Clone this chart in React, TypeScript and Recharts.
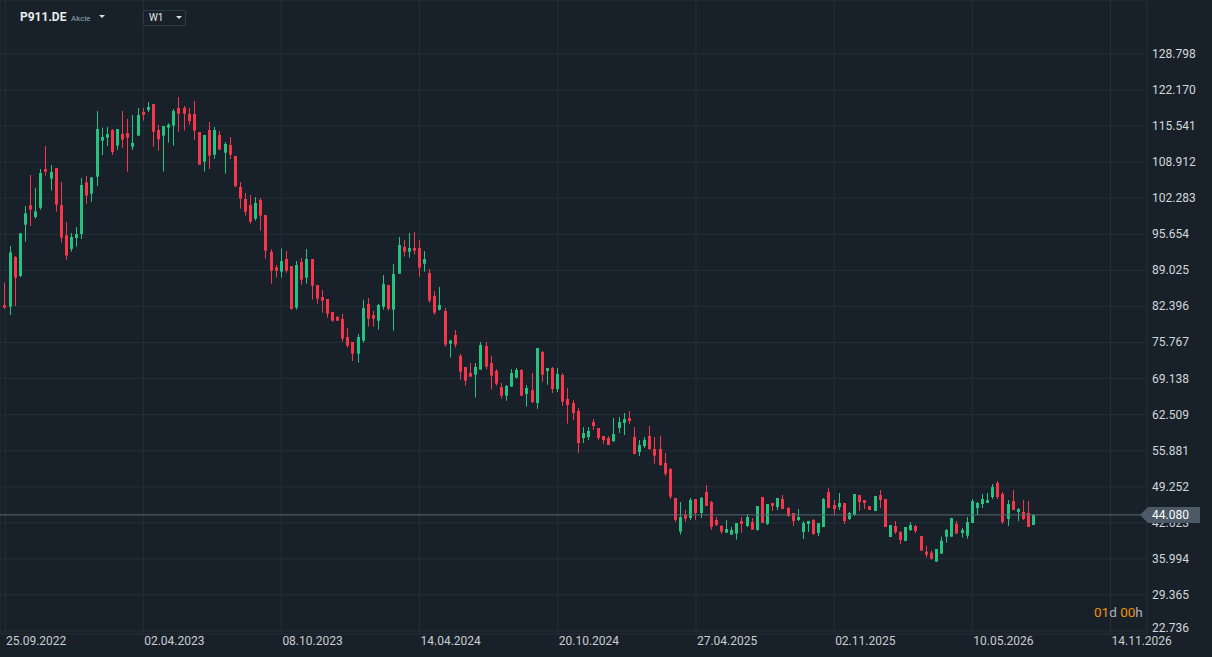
import React from 'react';
import { ComposedChart, Bar, XAxis, YAxis, CartesianGrid, ReferenceLine } from 'recharts';

// weekly candles, index 0 = week of 25.09.2022
const DATE_TICKS = [0, 27, 54, 81, 108, 135, 162, 189, 216];
const DATE_LABELS = ['25.09.2022', '02.04.2023', '08.10.2023', '14.04.2024', '20.10.2024', '27.04.2025', '02.11.2025', '10.05.2026', '14.11.2026'];
const PRICE_TICKS = [22.736, 29.365, 35.994, 42.623, 49.252, 55.881, 62.509, 69.138, 75.767, 82.396, 89.025, 95.654, 102.283, 108.912, 115.541, 122.17, 128.798];
const LAST_PRICE = 44.08;

const OPEN = [
  82.65, 82.35, 91.48, 87.98, 97.42, 100.97, 98.83, 100.54, 107.65, 105.87,
  107.83, 101.03, 95.46, 92.95, 94.97, 95.7, 105.2, 103.12, 106.24, 112.86,
  113.41, 114.82, 111.94, 114.08, 114.27, 111.76, 113.78, 118.13, 118.49, 119.6,
  114.82, 113.78, 115.25, 115.61, 118.86, 118.86, 117.76, 117.76, 114.45, 109.0,
  114.82, 110.28, 113.9, 110.65, 112.06, 110.04, 104.34, 102.14, 101.03, 98.52,
  101.95, 99.2, 92.4, 89.58, 88.78, 91.11, 89.82, 82.16, 90.56, 87.68,
  91.11, 86.33, 84.12, 83.76, 81.37, 80.45, 80.08, 76.77, 75.85, 73.71,
  76.1, 82.84, 80.82, 79.77, 82.35, 86.33, 81.8, 88.42, 93.32, 92.46,
  93.13, 93.13, 90.25, 88.54, 84.31, 81.8, 81.55, 75.55, 77.14, 73.28,
  71.26, 70.16, 69.85, 70.77, 75.12, 72.0, 70.53, 67.59, 65.99, 67.65,
  69.3, 70.71, 66.3, 67.03, 64.64, 74.01, 70.52, 71.07, 67.21, 69.79,
  65.38, 64.64, 63.17, 58.21, 58.39, 61.15, 60.05, 58.58, 58.21, 57.66,
  60.05, 60.97, 61.88, 58.39, 55.64, 56.74, 58.58, 56.19, 56.19, 53.62,
  52.51, 47.19, 41.0, 44.06, 43.51, 47.0, 44.43, 48.29, 46.45, 43.14,
  42.04, 40.81, 40.45, 40.63, 42.96, 42.04, 42.77, 41.31, 47.37, 42.41,
  46.27, 45.53, 47.0, 45.34, 44.43, 43.14, 40.93, 42.4, 43.14, 40.75,
  41.85, 48.28, 45.9, 45.53, 46.26, 43.32, 44.06, 47.73, 46.81, 45.71,
  44.79, 47.73, 47.0, 40.01, 42.04, 40.93, 39.28, 41.3, 42.04, 40.2,
  37.32, 37.14, 35.48, 36.95, 40.08, 40.08, 42.41, 40.75, 40.26, 42.59,
  45.35, 46.08, 46.26, 47.37, 49.94, 47.92, 43.32, 46.63, 44.61, 44.61,
  44.43, 42.22,
];
const HIGH = [
  86.76, 93.5, 91.66, 95.83, 100.85, 106.55, 104.16, 107.65, 111.88, 108.39,
  107.83, 105.26, 97.91, 95.89, 96.99, 106.0, 106.36, 106.12, 118.31, 115.25,
  115.37, 115.0, 115.0, 118.31, 116.84, 117.58, 118.86, 118.86, 119.96, 119.6,
  115.74, 115.55, 116.04, 118.68, 120.88, 119.23, 118.86, 120.15, 114.45, 113.9,
  116.29, 115.37, 114.63, 112.61, 113.53, 110.04, 105.26, 103.24, 102.87, 102.5,
  102.32, 99.2, 92.89, 90.01, 93.07, 92.58, 89.82, 90.74, 91.29, 92.95,
  91.11, 86.33, 85.41, 83.76, 81.37, 80.63, 81.0, 78.43, 75.85, 77.32,
  83.57, 83.94, 81.55, 82.84, 88.17, 86.33, 90.19, 95.15, 94.6, 95.89,
  96.07, 94.6, 92.58, 89.27, 85.23, 85.97, 82.11, 76.29, 78.06, 73.65,
  71.26, 72.0, 72.0, 75.86, 75.86, 73.28, 70.89, 68.32, 67.95, 70.89,
  71.08, 70.89, 67.95, 70.15, 74.75, 74.2, 71.07, 71.26, 71.07, 70.15,
  67.4, 65.19, 63.72, 60.23, 60.23, 61.7, 60.05, 58.58, 58.58, 61.88,
  62.07, 62.8, 63.17, 60.23, 57.84, 58.39, 60.41, 58.39, 58.58, 55.46,
  52.7, 47.19, 46.45, 44.98, 47.19, 47.0, 47.37, 49.58, 46.64, 43.69,
  42.22, 43.14, 41.86, 42.59, 43.69, 44.25, 43.51, 45.72, 47.37, 46.08,
  46.27, 47.19, 47.74, 45.53, 44.43, 45.16, 42.96, 42.96, 43.32, 42.59,
  47.18, 49.02, 46.81, 48.1, 46.26, 44.61, 47.92, 47.73, 46.81, 45.71,
  47.55, 48.65, 47.0, 42.22, 42.96, 41.12, 41.85, 42.77, 42.22, 40.2,
  38.42, 37.5, 37.81, 40.08, 41.49, 43.51, 42.96, 41.67, 43.69, 47.0,
  46.45, 47.92, 48.1, 49.76, 50.31, 48.29, 46.82, 48.65, 45.35, 46.82,
  46.63, 44.24,
];
const LOW = [
  82.0, 80.82, 82.47, 87.8, 94.3, 97.17, 98.52, 100.18, 106.43, 103.67,
  99.81, 94.11, 90.99, 92.46, 93.38, 94.79, 101.28, 101.65, 104.53, 110.22,
  111.88, 110.22, 111.14, 111.57, 107.16, 111.14, 113.78, 116.53, 118.13, 111.76,
  111.02, 107.16, 112.49, 111.94, 114.51, 114.7, 115.8, 112.98, 108.45, 107.16,
  107.65, 109.49, 111.2, 106.79, 109.49, 104.34, 100.36, 99.07, 97.6, 98.15,
  96.32, 91.17, 86.58, 87.68, 87.68, 88.6, 81.8, 81.8, 86.39, 86.58,
  83.63, 82.9, 81.25, 80.33, 79.59, 79.77, 75.92, 74.81, 72.36, 72.06,
  75.73, 78.67, 78.67, 78.12, 81.8, 81.61, 77.94, 88.42, 91.54, 91.36,
  91.91, 87.86, 88.78, 83.09, 80.88, 81.62, 75.0, 72.98, 74.82, 68.93,
  67.83, 69.49, 65.63, 70.77, 70.77, 67.1, 67.83, 65.44, 65.07, 67.65,
  69.12, 65.99, 63.97, 64.64, 63.54, 68.5, 68.01, 66.48, 66.66, 64.09,
  60.84, 61.52, 55.45, 57.29, 57.84, 59.68, 57.84, 57.11, 56.92, 57.47,
  59.13, 58.76, 60.78, 55.27, 54.9, 56.37, 56.0, 53.5, 53.07, 51.23,
  47.0, 42.77, 40.45, 42.77, 43.14, 43.14, 43.51, 45.72, 41.31, 42.04,
  40.63, 40.81, 40.45, 39.53, 40.81, 41.86, 41.37, 41.18, 42.59, 42.22,
  44.8, 44.98, 45.16, 43.69, 42.04, 42.96, 39.65, 40.93, 40.38, 40.2,
  41.85, 45.34, 44.06, 44.98, 42.4, 43.14, 43.87, 44.79, 45.16, 44.98,
  44.79, 45.34, 41.85, 40.01, 40.57, 38.73, 39.28, 41.12, 40.75, 37.5,
  36.22, 35.85, 35.48, 36.95, 38.97, 40.08, 40.63, 39.89, 39.71, 42.59,
  44.06, 45.35, 46.26, 47.0, 47.0, 42.41, 42.04, 44.98, 42.96, 43.14,
  41.85, 42.22,
];
const CLOSE = [
  82.17, 92.33, 87.68, 95.83, 99.5, 100.18, 99.87, 106.92, 107.16, 107.1,
  101.1, 95.03, 91.72, 95.15, 95.7, 104.71, 102.75, 106.12, 115.0, 113.53,
  114.08, 110.77, 115.0, 113.04, 113.41, 112.43, 117.58, 117.58, 119.05, 114.51,
  113.1, 115.55, 115.8, 118.31, 117.82, 117.82, 116.47, 114.7, 108.45, 113.9,
  110.1, 114.82, 111.2, 112.25, 110.28, 104.47, 102.2, 99.81, 97.97, 101.4,
  99.07, 92.64, 88.96, 88.96, 90.74, 88.96, 81.92, 90.01, 87.31, 91.11,
  86.21, 83.82, 83.45, 81.06, 79.77, 79.77, 76.47, 75.18, 73.71, 76.77,
  82.1, 80.14, 80.14, 82.65, 86.51, 81.98, 88.35, 93.68, 92.46, 93.13,
  92.64, 89.52, 91.11, 83.45, 81.25, 82.66, 75.37, 76.1, 75.37, 70.4,
  68.75, 69.49, 71.26, 75.31, 71.32, 69.67, 68.2, 65.99, 67.77, 70.16,
  70.71, 65.99, 67.4, 64.82, 74.75, 69.85, 71.07, 67.21, 69.97, 64.89,
  64.27, 62.8, 57.29, 59.13, 59.5, 60.41, 58.21, 57.84, 56.92, 58.94,
  61.15, 61.7, 61.33, 55.27, 56.92, 57.84, 56.19, 54.96, 53.25, 51.66,
  47.43, 43.14, 43.69, 43.39, 46.82, 44.43, 47.19, 45.72, 41.86, 42.22,
  41.0, 41.49, 41.31, 42.59, 42.41, 43.69, 41.37, 45.72, 42.59, 46.08,
  45.72, 47.19, 45.16, 43.87, 42.96, 43.69, 42.59, 42.96, 40.57, 42.59,
  47.0, 45.34, 45.16, 46.26, 42.96, 44.43, 47.92, 46.45, 46.26, 44.98,
  47.55, 46.81, 41.85, 42.22, 40.93, 39.46, 41.85, 42.22, 41.12, 37.5,
  36.77, 36.03, 37.81, 39.34, 41.3, 43.51, 40.63, 41.3, 42.77, 46.63,
  46.26, 47.0, 46.82, 49.21, 47.37, 42.77, 46.08, 44.98, 45.16, 43.32,
  41.85, 44.06,
];

const data = OPEN.map((open, i) => ({
  i,
  open,
  high: HIGH[i],
  low: LOW[i],
  close: CLOSE[i],
  range: [LOW[i], HIGH[i]],
}));

const BG = '#182129';
const GRID = '#242f38';
const UP = '#26c281';
const DOWN = '#f5364b';
const FONT = 'Roboto, "Noto Sans", sans-serif';

const Candle = (props: any) => {
  const { x, y, width, height, payload } = props;
  if (!payload) return null;
  const { open, close, high, low } = payload;
  const top = Math.min(y, y + height);
  const h = Math.abs(height);
  const ratio = high > low ? h / (high - low) : 0;
  const yOf = (v: number) => top + (high - v) * ratio;
  const cx = Math.round(x + width / 2 - 0.5) + 0.5;
  const color = close >= open ? UP : DOWN;
  const bodyTop = yOf(Math.max(open, close));
  const bodyBottom = yOf(Math.min(open, close));
  return (
    <g>
      <line x1={cx} x2={cx} y1={top} y2={top + h} stroke={color} strokeWidth={1} />
      <rect x={cx - 1.5} y={bodyTop} width={3} height={Math.max(1, bodyBottom - bodyTop)} fill={color} />
    </g>
  );
};

const DateTick = (props: any) => {
  const { x, y, payload } = props;
  const label = DATE_LABELS[DATE_TICKS.indexOf(payload.value)];
  return (
    <text x={x + 1} y={y + 11} textAnchor="start" fill="#c9cdd1" fontSize={12} fontFamily={FONT}>
      {label}
    </text>
  );
};

// price labels sit left-aligned a few px right of the plot edge
const PriceTick = (props: any) => {
  const { x, y, payload } = props;
  return (
    <text x={x + 5} y={Math.min(y, 627.5) + 4} textAnchor="start" fill="#d3d7da" fontSize={12} fontFamily={FONT}>
      {payload.value.toFixed(3)}
    </text>
  );
};

const PriceTag = (props: any) => {
  const vb = props.viewBox;
  if (!vb) return null;
  const tip = vb.x + vb.width - 7;
  const cy = vb.y;
  const pts = [
    [tip, cy],
    [tip + 8, cy - 8],
    [tip + 60, cy - 8],
    [tip + 60, cy + 8],
    [tip + 8, cy + 8],
  ].map((p) => p.join(',')).join(' ');
  return (
    <g>
      <polygon points={pts} fill="#4b5a66" />
      <text x={tip + 12} y={cy + 4.5} textAnchor="start" fill="#ffffff" fontSize={12} fontFamily={FONT}>
        {LAST_PRICE.toFixed(3)}
      </text>
    </g>
  );
};

const Caret = ({ left, top }: { left: number; top: number }) => (
  <div
    style={{
      position: 'absolute',
      left,
      top,
      width: 0,
      height: 0,
      borderLeft: '3.5px solid transparent',
      borderRight: '3.5px solid transparent',
      borderTop: '3.5px solid #d8dde1',
    }}
  />
);

export default function App() {
  return (
    <div style={{ position: 'absolute', left: 0, top: 0, width: 1212, height: 657, background: BG, fontFamily: FONT, overflow: 'hidden' }}>
      <ComposedChart width={1212} height={657} data={data} margin={{ top: 0, right: 0, bottom: 0, left: 0 }}>
        <CartesianGrid stroke={GRID} strokeWidth={1} />
        <XAxis
          dataKey="i"
          type="number"
          domain={[-0.977, 223.13]}
          ticks={DATE_TICKS}
          allowDataOverflow
          height={23}
          axisLine={false}
          tickLine={false}
          tickSize={0}
          tickMargin={0}
          tick={<DateTick />}
          interval={0}
        />
        <YAxis
          orientation="right"
          type="number"
          domain={[22.19, 138.71]}
          ticks={PRICE_TICKS}
          allowDataOverflow
          width={65}
          axisLine={false}
          tickLine={false}
          tickSize={0}
          tickMargin={0}
          tick={<PriceTick />}
          interval={0}
        />
        <Bar dataKey="range" shape={<Candle />} isAnimationActive={false} barSize={3} />
        <ReferenceLine y={LAST_PRICE} stroke="#5b6a75" strokeWidth={1} label={<PriceTag />} zIndex={2000} />
      </ComposedChart>

      <div style={{ position: 'absolute', left: 20, top: 10, fontSize: 12, fontWeight: 700, color: '#e9ecef', lineHeight: '14px' }}>
        P911.DE
      </div>
      <div style={{ position: 'absolute', left: 71, top: 14, fontSize: 8, color: '#8fa6b8', lineHeight: '10px' }}>Akcie</div>
      <Caret left={99} top={14.5} />

      <div
        style={{
          position: 'absolute',
          left: 143,
          top: 10,
          width: 41,
          height: 14,
          border: '1px solid #2f3b45',
          borderRadius: 2,
        }}
      />
      <div style={{ position: 'absolute', left: 149, top: 12, fontSize: 10, color: '#e4e7ea', lineHeight: '12px' }}>W1</div>
      <Caret left={176} top={15.5} />

      <div style={{ position: 'absolute', left: 1094, top: 603, fontSize: 13.5, lineHeight: '18px', whiteSpace: 'nowrap' }}>
        <span style={{ color: '#f0900c' }}>01</span>
        <span style={{ color: '#aab3ba' }}>d </span>
        <span style={{ color: '#f0900c' }}>00</span>
        <span style={{ color: '#aab3ba' }}>h</span>
      </div>
    </div>
  );
}
